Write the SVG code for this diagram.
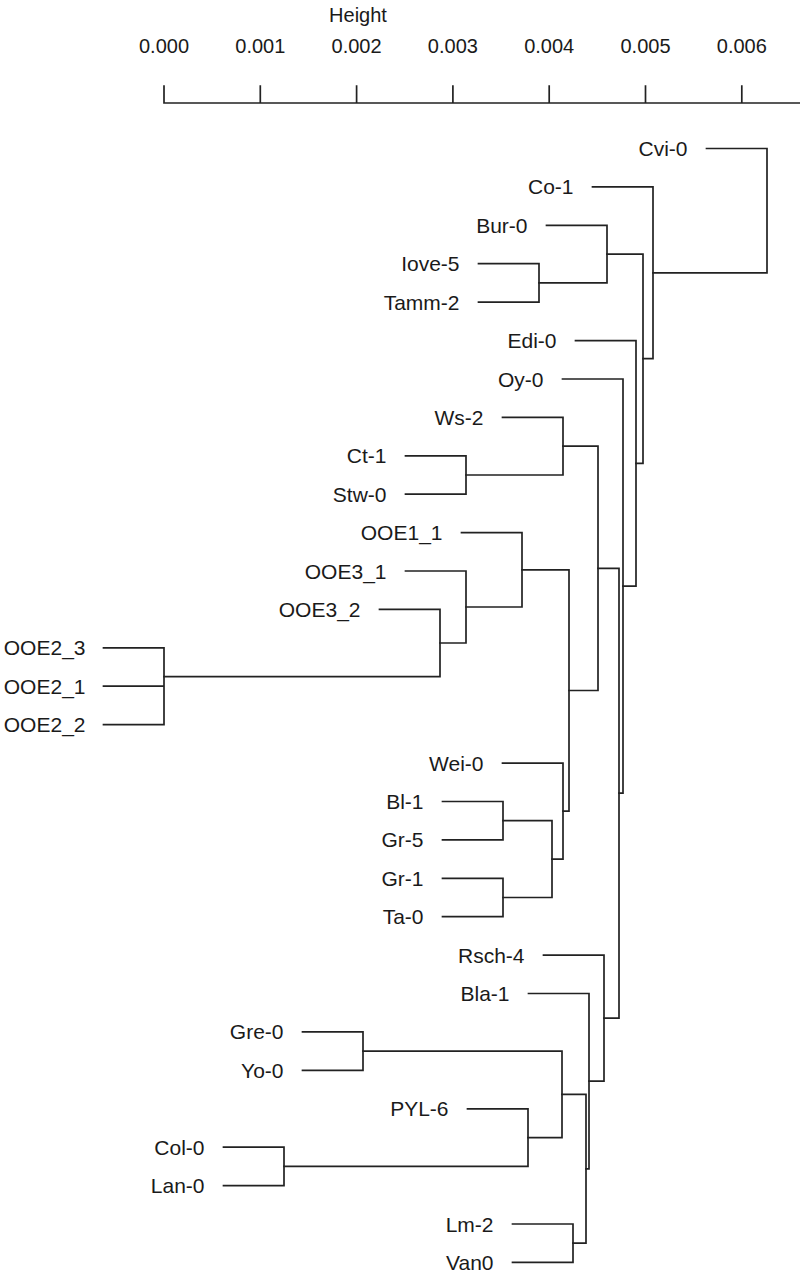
<svg xmlns="http://www.w3.org/2000/svg" width="800" height="1273" viewBox="0 0 800 1273">
<style>
.ln{fill:none;stroke:#222;stroke-width:1.7;stroke-linecap:square}
.lb{font-family:"Liberation Sans",Arial,sans-serif;font-size:21px;fill:#1a1a1a;text-anchor:end}
.ax{font-family:"Liberation Sans",Arial,sans-serif;font-size:20px;fill:#1a1a1a;text-anchor:middle}
</style>
<rect width="800" height="1273" fill="#fff"/>
<g id="axis">
<text class="ax" x="358" y="22">Height</text>
<text class="ax" x="164" y="53">0.000</text>
<text class="ax" x="260.3" y="53">0.001</text>
<text class="ax" x="356.6" y="53">0.002</text>
<text class="ax" x="452.9" y="53">0.003</text>
<text class="ax" x="549.2" y="53">0.004</text>
<text class="ax" x="645.5" y="53">0.005</text>
<text class="ax" x="741.8" y="53">0.006</text>
<path class="ln" d="M164 103H800M164 86V103M260.3 86V103M356.6 86V103M452.9 86V103M549.2 86V103M645.5 86V103M741.8 86V103"/>
</g>
<g id="connectors">
<path class="ln" d="M478.5 263.7H539V302.1H478.5"/>
<path class="ln" d="M546.5 225.3H607V282.9H539"/>
<path class="ln" d="M405.5 455.8H466V494.2H405.5"/>
<path class="ln" d="M502.5 417.4H563V475H466"/>
<path class="ln" d="M103.5 647.8H164V724.7H103.5M103.5 686.2H164"/>
<path class="ln" d="M379.5 609.4H440V676.6H164"/>
<path class="ln" d="M405.5 571H466V643H440"/>
<path class="ln" d="M461.5 532.6H522V607H466"/>
<path class="ln" d="M442.5 801.5H503V839.9H442.5"/>
<path class="ln" d="M442.5 878.3H503V916.7H442.5"/>
<path class="ln" d="M503 820.7H552V897.5H503"/>
<path class="ln" d="M502.5 763.1H563V859.1H552"/>
<path class="ln" d="M522 569.8H569V811.1H563"/>
<path class="ln" d="M563 446.2H598V690.5H569"/>
<path class="ln" d="M302.5 1031.9H363V1070.3H302.5"/>
<path class="ln" d="M223.5 1147.2H284V1185.6H223.5"/>
<path class="ln" d="M467.5 1108.8H528V1166.4H284"/>
<path class="ln" d="M363 1051.1H562V1137.6H528"/>
<path class="ln" d="M512.5 1224H573V1262.4H512.5"/>
<path class="ln" d="M562 1094.3H586V1243.2H573"/>
<path class="ln" d="M528.5 993.5H589V1168.8H586"/>
<path class="ln" d="M543.5 955.1H604V1081.1H589"/>
<path class="ln" d="M598 568.3H619V1018.1H604"/>
<path class="ln" d="M562.5 379H623V793.2H619"/>
<path class="ln" d="M575.5 340.6H636V586.1H623"/>
<path class="ln" d="M607 254.1H643V463.3H636"/>
<path class="ln" d="M592.5 186.9H653V358.7H643"/>
<path class="ln" d="M706.5 148.5H767V272.8H653"/>
</g>
<g id="leaf-Cvi-0"><text class="lb" x="687.5" y="156">Cvi-0</text></g>
<g id="leaf-Co-1"><text class="lb" x="573.5" y="194.4">Co-1</text></g>
<g id="leaf-Bur-0"><text class="lb" x="527.5" y="232.8">Bur-0</text></g>
<g id="leaf-Iove-5"><text class="lb" x="459.5" y="271.2">Iove-5</text></g>
<g id="leaf-Tamm-2"><text class="lb" x="459.5" y="309.6">Tamm-2</text></g>
<g id="leaf-Edi-0"><text class="lb" x="556.5" y="348.1">Edi-0</text></g>
<g id="leaf-Oy-0"><text class="lb" x="543.5" y="386.5">Oy-0</text></g>
<g id="leaf-Ws-2"><text class="lb" x="483.5" y="424.9">Ws-2</text></g>
<g id="leaf-Ct-1"><text class="lb" x="386.5" y="463.3">Ct-1</text></g>
<g id="leaf-Stw-0"><text class="lb" x="386.5" y="501.7">Stw-0</text></g>
<g id="leaf-OOE1_1"><text class="lb" x="442.5" y="540.1">OOE1_1</text></g>
<g id="leaf-OOE3_1"><text class="lb" x="386.5" y="578.5">OOE3_1</text></g>
<g id="leaf-OOE3_2"><text class="lb" x="360.5" y="616.9">OOE3_2</text></g>
<g id="leaf-OOE2_3"><text class="lb" x="85.5" y="655.3">OOE2_3</text></g>
<g id="leaf-OOE2_1"><text class="lb" x="85.5" y="693.7">OOE2_1</text></g>
<g id="leaf-OOE2_2"><text class="lb" x="85.5" y="732.2">OOE2_2</text></g>
<g id="leaf-Wei-0"><text class="lb" x="483.5" y="770.6">Wei-0</text></g>
<g id="leaf-Bl-1"><text class="lb" x="423.5" y="809">Bl-1</text></g>
<g id="leaf-Gr-5"><text class="lb" x="423.5" y="847.4">Gr-5</text></g>
<g id="leaf-Gr-1"><text class="lb" x="423.5" y="885.8">Gr-1</text></g>
<g id="leaf-Ta-0"><text class="lb" x="423.5" y="924.2">Ta-0</text></g>
<g id="leaf-Rsch-4"><text class="lb" x="524.5" y="962.6">Rsch-4</text></g>
<g id="leaf-Bla-1"><text class="lb" x="509.5" y="1001">Bla-1</text></g>
<g id="leaf-Gre-0"><text class="lb" x="283.5" y="1039.4">Gre-0</text></g>
<g id="leaf-Yo-0"><text class="lb" x="283.5" y="1077.8">Yo-0</text></g>
<g id="leaf-PYL-6"><text class="lb" x="448.5" y="1116.3">PYL-6</text></g>
<g id="leaf-Col-0"><text class="lb" x="204.5" y="1154.7">Col-0</text></g>
<g id="leaf-Lan-0"><text class="lb" x="204.5" y="1193.1">Lan-0</text></g>
<g id="leaf-Lm-2"><text class="lb" x="493.5" y="1231.5">Lm-2</text></g>
<g id="leaf-Van0"><text class="lb" x="493.5" y="1269.9">Van0</text></g>
</svg>
